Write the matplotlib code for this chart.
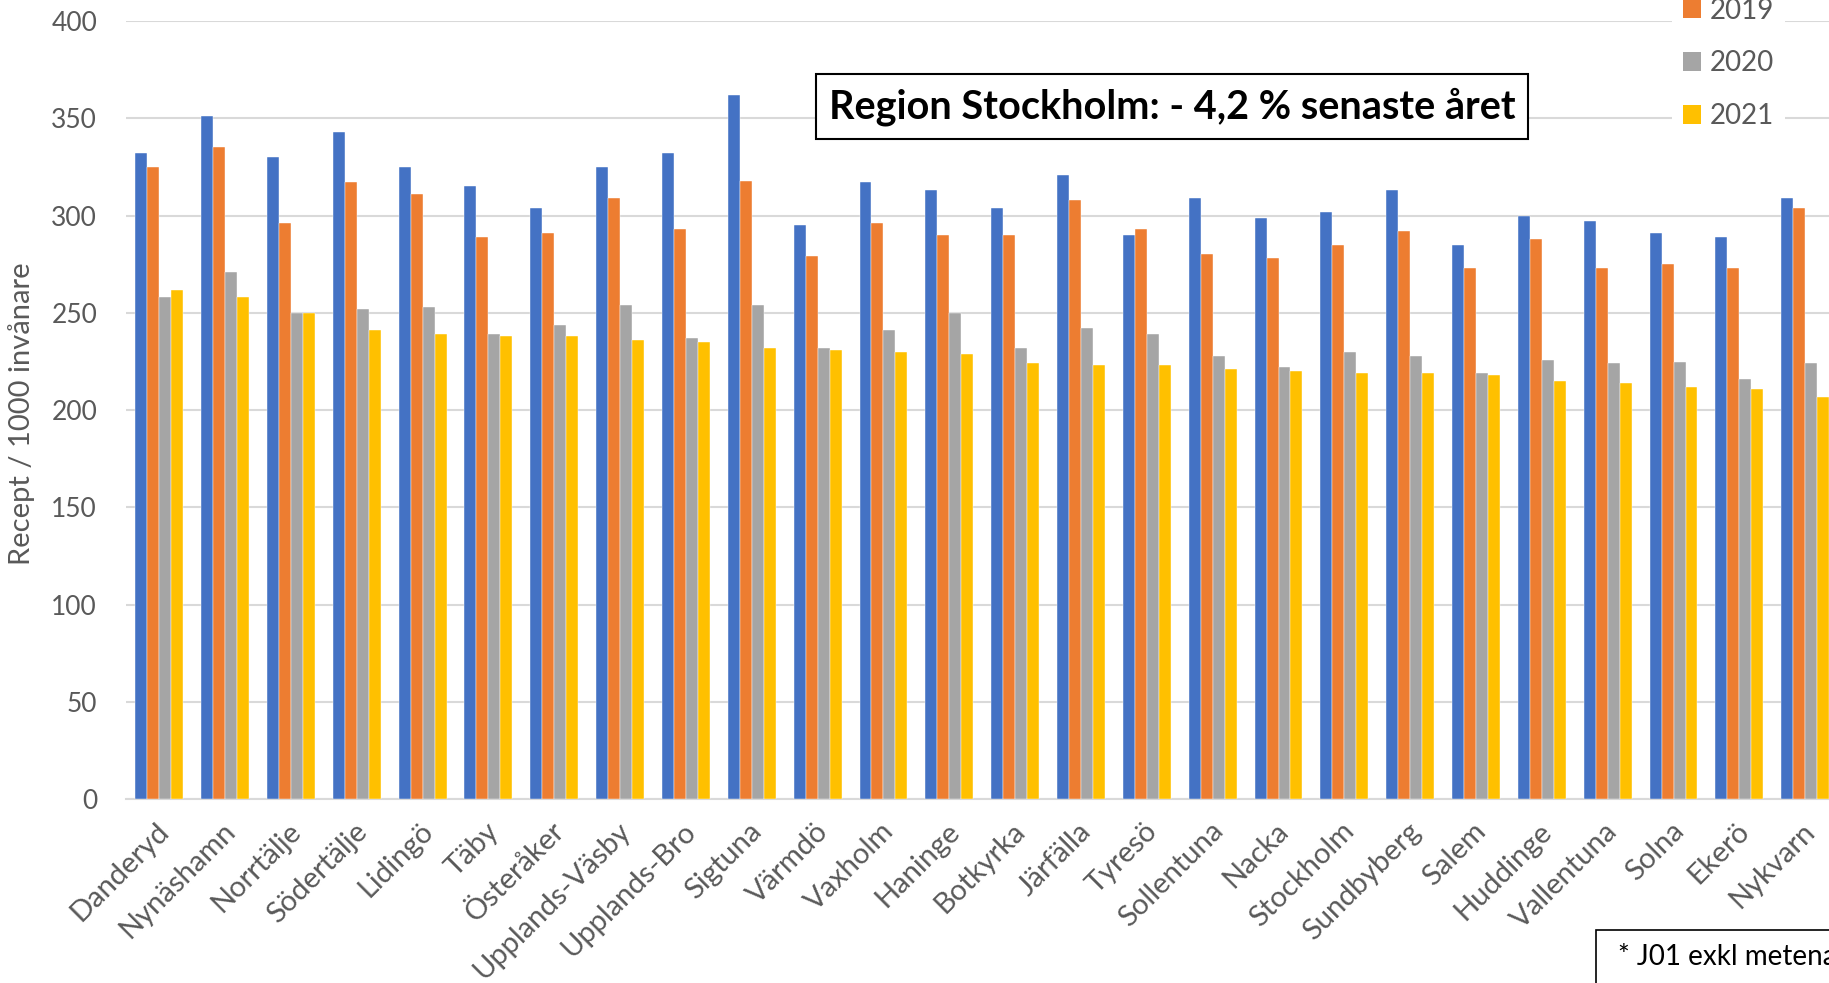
import matplotlib
matplotlib.use("Agg")
import matplotlib.pyplot as plt
from matplotlib.patches import Patch, Rectangle
import matplotlib.transforms as mtransforms
import numpy as np

categories = ["Danderyd", "Nynäshamn", "Norrtälje", "Södertälje", "Lidingö", "Täby",
              "Österåker", "Upplands-Väsby", "Upplands-Bro", "Sigtuna", "Värmdö", "Vaxholm",
              "Haninge", "Botkyrka", "Järfälla", "Tyresö", "Sollentuna", "Nacka", "Stockholm",
              "Sundbyberg", "Salem", "Huddinge", "Vallentuna", "Solna", "Ekerö", "Nykvarn"]

v2018 = [332, 351, 330, 343, 325, 315, 304, 325, 332, 362, 295, 317, 313, 304, 321, 290,
         309, 299, 302, 313, 285, 300, 297, 291, 289, 309]
v2019 = [325, 335, 296, 317, 311, 289, 291, 309, 293, 318, 279, 296, 290, 290, 308, 293,
         280, 278, 285, 292, 273, 288, 273, 275, 273, 304]
v2020 = [258, 271, 250, 252, 253, 239, 244, 254, 237, 254, 232, 241, 250, 232, 242, 239,
         228, 222, 230, 228, 219, 226, 224, 225, 216, 224]
v2021 = [262, 258, 250, 241, 239, 238, 238, 236, 235, 232, 231, 230, 229, 224, 223, 223,
         221, 220, 219, 219, 218, 215, 214, 212, 211, 207]

series_labels = ["2018", "2019", "2020", "2021"]
colors = ["#4472C4", "#ED7D31", "#A5A5A5", "#FFC000"]
yticks = [0, 50, 100, 150, 200, 250, 300, 350, 400]

W, H = 1829, 983
fig = plt.figure(figsize=(W / 100, H / 100), dpi=100)
font = "Lato"
plt.rcParams["font.family"] = [font, "DejaVu Sans"]

left_px, right_px = 126.3, 126.3 + 26 * 65.84
bottom_px, top_px = 799.3, 21.0
ax = fig.add_axes([left_px / W, 1 - bottom_px / H, (right_px - left_px) / W, (bottom_px - top_px) / H])

x = np.arange(len(categories))
w = 1 / 5.5
data = [v2018, v2019, v2020, v2021]
for i, (vals, c, lab) in enumerate(zip(data, colors, series_labels)):
    ax.bar(x + (i - 1.5) * w, vals, width=w, color=c, label=lab, zorder=3,
           edgecolor="white", linewidth=0.3)

ax.set_xlim(-0.5, len(categories) - 0.5)
ax.set_ylim(0, 400)
ax.set_yticks(yticks)
ax.yaxis.grid(True, color="#D9D9D9", linewidth=1.5, zorder=0)
ax.set_axisbelow(True)
for s in ["left", "right", "top"]:
    ax.spines[s].set_visible(False)
ax.spines["bottom"].set_color("#D9D9D9")
ax.spines["bottom"].set_linewidth(1.5)

ax.tick_params(axis="y", length=0, pad=21, labelsize=19, labelcolor="#595959")
ax.tick_params(axis="x", length=0, pad=20)
ax.set_xticks(x)
ax.set_xticklabels(categories, rotation=45, ha="right", va="center",
                   rotation_mode="anchor", fontsize=21, color="#595959")
offset = mtransforms.ScaledTranslation(6 / 100, 0, fig.dpi_scale_trans)
for lbl in ax.get_xticklabels():
    lbl.set_transform(lbl.get_transform() + offset)

ax.set_ylabel("Recept / 1000 invånare", fontsize=21, color="#595959", va="center")
ax.yaxis.set_label_coords(-0.0615, 0.495)

handles = [Patch(facecolor=c, edgecolor="none") for c in colors]
leg = fig.legend(handles, series_labels, loc="center left",
                 bbox_to_anchor=(1658 / W, 1 - 37 / H), fontsize=20,
                 frameon=True, facecolor="white", edgecolor="none", framealpha=1,
                 handlelength=0.65, handleheight=0.65, handletextpad=0.3,
                 labelspacing=0.96, borderpad=0.4)
for t in leg.get_texts():
    t.set_color("#595959")

fig.text(1172 / W, 1 - 106.5 / H, "Region Stockholm: - 4,2 % senaste året",
         ha="center", va="center", fontsize=28.5, fontweight="bold", color="black",
         bbox=dict(boxstyle="square,pad=0.33", facecolor="white", edgecolor="black", linewidth=1.5))

fig.patches.append(Rectangle((1596 / W, -0.05), (W - 1596 + 50) / W, 0.05 + (983 - 930) / H,
                             transform=fig.transFigure, facecolor="white", edgecolor="black",
                             linewidth=1.2, zorder=5))
fig.text(1618 / W, 1 - 957 / H, "* J01 exkl metenamin", ha="left", va="center",
         fontsize=20, color="black", zorder=6)

fig.savefig("out.png", dpi=100)
